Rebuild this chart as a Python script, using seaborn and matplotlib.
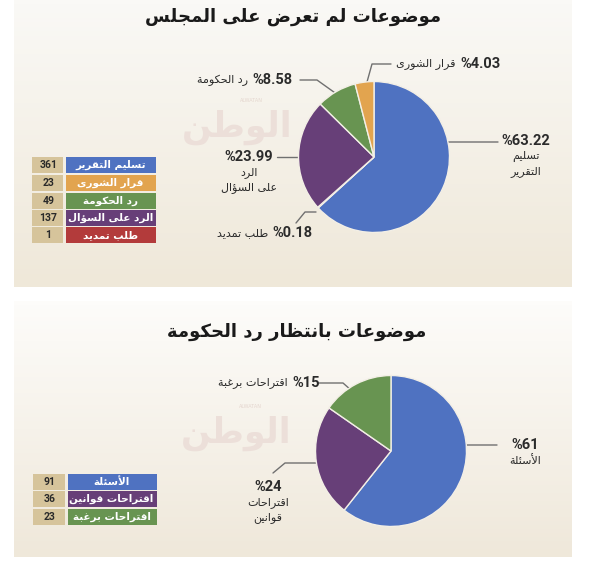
import numpy as np
import matplotlib
matplotlib.use("Agg")
import matplotlib.pyplot as plt
import seaborn as sns
from matplotlib.patches import Rectangle

# ---------------- data ----------------
title1 = "موضوعات لم تعرض على المجلس"
cats1 = ["تسليم التقرير", "قرار الشورى", "رد الحكومة", "الرد على السؤال", "طلب تمديد"]
vals1 = [361, 23, 49, 137, 1]
colors1 = ["#4f72c1", "#e2a44f", "#689451", "#673f78", "#b33b3b"]
pie_order1 = [0, 4, 3, 2, 1]          # clockwise from 12 o'clock

title2 = "موضوعات بانتظار رد الحكومة"
cats2 = ["الأسئلة", "اقتراحات قوانين", "اقتراحات برغبة"]
vals2 = [91, 36, 23]
colors2 = ["#4f72c1", "#673f78", "#689451"]
pie_order2 = [0, 1, 2]

# ---------------- minimal Arabic shaping ----------------
def _f4(b):
    return (chr(b), chr(b + 1), chr(b + 2), chr(b + 3))
def _f2(b):
    return (chr(b), chr(b + 1))
FORMS = {
    'ء': (chr(0xFE80),), 'آ': _f2(0xFE81), 'أ': _f2(0xFE83), 'ؤ': _f2(0xFE85),
    'إ': _f2(0xFE87), 'ئ': _f4(0xFE89), 'ا': _f2(0xFE8D), 'ب': _f4(0xFE8F),
    'ة': _f2(0xFE93), 'ت': _f4(0xFE95), 'ث': _f4(0xFE99), 'ج': _f4(0xFE9D),
    'ح': _f4(0xFEA1), 'خ': _f4(0xFEA5), 'د': _f2(0xFEA9), 'ذ': _f2(0xFEAB),
    'ر': _f2(0xFEAD), 'ز': _f2(0xFEAF), 'س': _f4(0xFEB1), 'ش': _f4(0xFEB5),
    'ص': _f4(0xFEB9), 'ض': _f4(0xFEBD), 'ط': _f4(0xFEC1), 'ظ': _f4(0xFEC5),
    'ع': _f4(0xFEC9), 'غ': _f4(0xFECD), 'ف': _f4(0xFED1), 'ق': _f4(0xFED5),
    'ك': _f4(0xFED9), 'ل': _f4(0xFEDD), 'م': _f4(0xFEE1), 'ن': _f4(0xFEE5),
    'ه': _f4(0xFEE9), 'و': _f2(0xFEED), 'ى': _f2(0xFEEF), 'ي': _f4(0xFEF1),
}
LAMALEF = {'آ': _f2(0xFEF5), 'أ': _f2(0xFEF7), 'إ': _f2(0xFEF9), 'ا': _f2(0xFEFB)}

def _jn(c):
    return c in FORMS and len(FORMS[c]) == 4

def ar(text):
    lines = []
    for line in text.split("\n"):
        ch = list(line)
        n = len(ch)
        res = []
        i = 0
        while i < n:
            c = ch[i]
            prev = ch[i - 1] if i > 0 else ''
            if c not in FORMS:
                res.append(c); i += 1; continue
            if c == 'ل' and i + 1 < n and ch[i + 1] in LAMALEF:
                iso, fin = LAMALEF[ch[i + 1]]
                res.append(fin if _jn(prev) else iso)
                i += 2; continue
            nxt = ch[i + 1] if i + 1 < n else ''
            jp = _jn(prev)
            jn = _jn(c) and nxt in FORMS
            f = FORMS[c]
            if jp and jn and len(f) == 4:
                g = f[3]
            elif jp and len(f) >= 2:
                g = f[1]
            elif jn:
                g = f[2]
            else:
                g = f[0]
            res.append(g); i += 1
        lines.append(''.join(reversed(res)))
    return "\n".join(lines)

# ---------------- figure ----------------
sns.set_theme(style="white")
plt.rcParams['font.family'] = ['DejaVu Sans']
W, H = 600, 565
fig = plt.figure(figsize=(W / 100, H / 100), dpi=100)
fig.patch.set_facecolor("white")

bg = fig.add_axes([0, 0, 1, 1])
bg.set_xlim(0, W); bg.set_ylim(H, 0); bg.axis("off")

def grad(y0, y1, ctop, cbot):
    c0 = np.array(matplotlib.colors.to_rgb(ctop)); c1 = np.array(matplotlib.colors.to_rgb(cbot))
    t = np.linspace(0, 1, 64)[:, None]
    img = (c0 * (1 - t) + c1 * t)[:, None, :]
    bg.imshow(img, extent=(14, 572, y1, y0), aspect="auto", zorder=0)

grad(0, 287, "#faf9f6", "#efe8d9")
grad(301, 557, "#fdfcfa", "#efe8da")
bg.set_xlim(0, W); bg.set_ylim(H, 0)

def fx(x): return x / W
def fy(y): return 1 - y / H

AR = ['DejaVu Sans']
NUM = ['Roboto', 'DejaVu Sans']
TXT = "#2b2b2b"
LINE = "#707070"

# titles
fig.text(fx(293), fy(17), ar(title1), ha="center", va="center", fontsize=13,
         fontweight="bold", family=AR, color="#1a1a1a")
fig.text(fx(297), fy(332), ar(title2), ha="center", va="center", fontsize=13,
         fontweight="bold", family=AR, color="#1a1a1a")

# watermarks
for (wx, wy) in [(237, 127), (236, 433)]:
    fig.text(fx(wx), fy(wy), ar("الوطن"), ha="center", va="center", fontsize=25,
             fontweight="bold", family=AR, color="#ecdfd9")
    fig.text(fx(wx + 14), fy(wy - 27), "ALWATAN", ha="center", va="center", fontsize=3.5,
             family=['DejaVu Sans'], color="#e4d6cf")

# pies
def draw_pie(cx, cy, r, vals, colors, order):
    ax = fig.add_axes([fx(cx - r), fy(cy + r), 2 * r / W, 2 * r / H])
    v = [vals[i] for i in order]
    c = [colors[i] for i in order]
    ax.pie(v, colors=c, startangle=90, counterclock=False, radius=1,
           wedgeprops=dict(edgecolor="#f3efe6", linewidth=1.0))
    ax.set_xlim(-1.02, 1.02); ax.set_ylim(-1.02, 1.02)
    ax.set_aspect("equal"); ax.axis("off")

draw_pie(374, 157, 77, vals1, colors1, pie_order1)
draw_pie(391, 451, 77, vals2, colors2, pie_order2)

tot1 = sum(vals1); tot2 = sum(vals2)
pct1 = ["%" + f"{v / tot1 * 100:.2f}" for v in vals1]
pct2 = ["%" + f"{round(v / tot2 * 100)}" for v in vals2]

def leader(pts):
    xs, ys = zip(*pts)
    bg.plot(xs, ys, color=LINE, lw=1.0, zorder=5)

def inline_label(x_num_left, y, num, name):
    fig.text(fx(x_num_left), fy(y), num, ha="left", va="center", fontsize=10.5,
             fontweight="bold", family=NUM, color=TXT)
    fig.text(fx(x_num_left - 4), fy(y), ar(name), ha="right", va="center", fontsize=8,
             family=AR, color=TXT)

def stacked_label(xc, y, num, name):
    fig.text(fx(xc), fy(y), num, ha="center", va="center", fontsize=10.5,
             fontweight="bold", family=NUM, color=TXT)
    fig.text(fx(xc), fy(y + 10), ar(name), ha="center", va="top", fontsize=8,
             family=AR, color=TXT, linespacing=1.5)

# top pie labels
inline_label(460, 64, pct1[1], cats1[1])
leader([(367, 82), (372, 64), (391, 64)])
inline_label(252, 80, pct1[2], cats1[2])
leader([(300, 80), (317, 80), (345, 100)])
stacked_label(249, 157, pct1[3], "الرد\nعلى السؤال")
leader([(277, 157), (310, 157)])
inline_label(272, 233, pct1[4], cats1[4])
leader([(296, 223), (305, 212), (316, 212)])
stacked_label(526, 141, pct1[0], "تسليم\nالتقرير")
leader([(413, 155), (427, 142), (498, 142)])

# bottom pie labels
inline_label(292, 383, pct2[2], cats2[2])
leader([(318, 383), (343, 383), (368, 405)])
stacked_label(525, 445, pct2[0], cats2[0])
leader([(428, 457), (440, 445), (497, 445)])
stacked_label(268, 487, pct2[1], "اقتراحات\nقوانين")
leader([(335, 463), (285, 463), (273, 473)])

# tables
TAN = "#d6c49b"
def table(x0, xsplit, x1, ycenters, h, vals, cats, colors):
    for yc, v, c, col in zip(ycenters, vals, cats, colors):
        bg.add_patch(Rectangle((x0, yc - h / 2), xsplit - x0 - 1.5, h, facecolor=TAN,
                               edgecolor="none", zorder=3))
        bg.add_patch(Rectangle((xsplit + 1.5, yc - h / 2), x1 - xsplit - 1.5, h,
                               facecolor=col, edgecolor="none", zorder=3))
        bg.text((x0 + xsplit) / 2, yc, str(v), ha="center", va="center", fontsize=7.5,
                fontweight="bold", family=NUM, color="#2a2a2a", zorder=4)
        bg.text((xsplit + x1) / 2, yc, ar(c), ha="center", va="center", fontsize=7.5,
                fontweight="bold", family=AR, color="white", zorder=4)

table(32, 64.5, 156, [165, 183, 201, 218, 235], 15.5, vals1, cats1, colors1)
table(33, 66, 157, [482, 499, 517], 15.5, vals2, cats2, colors2)

fig.savefig("out.png", dpi=100, facecolor="white")
